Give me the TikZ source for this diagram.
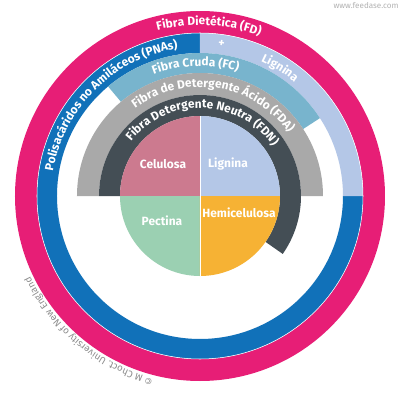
\documentclass[tikz,border=0pt]{standalone}
\usepackage{fontspec}
\setmainfont{Fira Sans}
\usetikzlibrary{decorations.text}

\definecolor{fdpink}{HTML}{E71E76}
\definecolor{pnablue}{HTML}{1171B9}
\definecolor{liglav}{HTML}{B4C7E7}
\definecolor{fcblue}{HTML}{78B4CD}
\definecolor{fdagrey}{HTML}{A9A9A9}
\definecolor{fdndark}{HTML}{444E55}
\definecolor{celpink}{HTML}{CC7A8F}
\definecolor{pecgreen}{HTML}{9BD0B2}
\definecolor{hemorange}{HTML}{F6B234}

\newcommand{\labelfont}{\fontsize{6.8}{8}\selectfont\bfseries}
\newcommand{\ringpart}[5]{\fill[#1] (#4:#2) arc[start angle=#4,end angle=#5,radius=#2] -- (#5:#3) arc[start angle=#5,end angle=#4,radius=#3] -- cycle;}
\tikzset{
  ringlabel/.style={decorate,decoration={text along path,text align=center,text color=white,text={|\labelfont|#1}}},
  pielabel/.style={text=white,font=\labelfont}
}

\begin{document}
\begin{tikzpicture}[x=0.02cm,y=0.02cm]
\useasboundingbox (-200,-204) rectangle (200,196);
% rings, outside in
\fill[fdpink] (0,0) circle[radius=185];
\fill[white] (0,0) circle[radius=163];
\ringpart{pnablue}{143}{163}{90}{360}
\ringpart{liglav}{143}{163}{0}{90}
\draw[white,line width=0.3pt] (0,0) circle[radius=163];
\ringpart{fcblue}{123}{143}{33}{130}
\ringpart{fdagrey}{101}{123}{0}{180}
\ringpart{fdndark}{80}{101}{-35}{180}
% pie
\foreach \a/\c in {0/liglav,90/celpink,180/pecgreen,270/hemorange}
  \fill[\c] (0,0) -- (\a:80) arc[start angle=\a,end angle=\a+90,radius=80] -- cycle;
\draw[white,line width=0.3pt] (0,-80) -- (0,80);
\node[pielabel] (cel) at (-37,32) {Celulosa};
\node[pielabel] (lig) at (28,32) {Lignina};
\node[pielabel] (pec) at (-38,-25) {Pectina};
\node[pielabel] (hem) at (39,-17) {Hemicelulosa};
% ring labels
\path[ringlabel={Fibra Dietética (FD)}] (131:171) arc[start angle=131,end angle=43,radius=171];
\path[ringlabel={Polisacáridos no Amiláceos (PNAs)}] (177:149) arc[start angle=177,end angle=92,radius=149];
\path[ringlabel={+}] (92:151) arc[start angle=92,end angle=72,radius=151];
\path[ringlabel={Lignina}] (80:148) arc[start angle=80,end angle=36,radius=148];
\path[ringlabel={Fibra Cruda (FC)}] (126:130) arc[start angle=126,end angle=58,radius=130];
\path[ringlabel={Fibra de Detergente Ácido (FDA)}] (136:109) arc[start angle=136,end angle=26,radius=109];
\path[ringlabel={Fibra Detergente Neutra (FDN)}] (150:88) arc[start angle=150,end angle=26,radius=88];
% credits
\path[decorate,decoration={text along path,text align=center,text color=black!45,
  text={|\fontsize{5.5}{6}\selectfont|© M Choct. University of New England}}]
  (262:188) arc[start angle=262,end angle=199,radius=188];
\node[text=black!30,font=\fontsize{4.6}{5}\selectfont] (web) at (166,190) {www.feedase.com};
\end{tikzpicture}
\end{document}
